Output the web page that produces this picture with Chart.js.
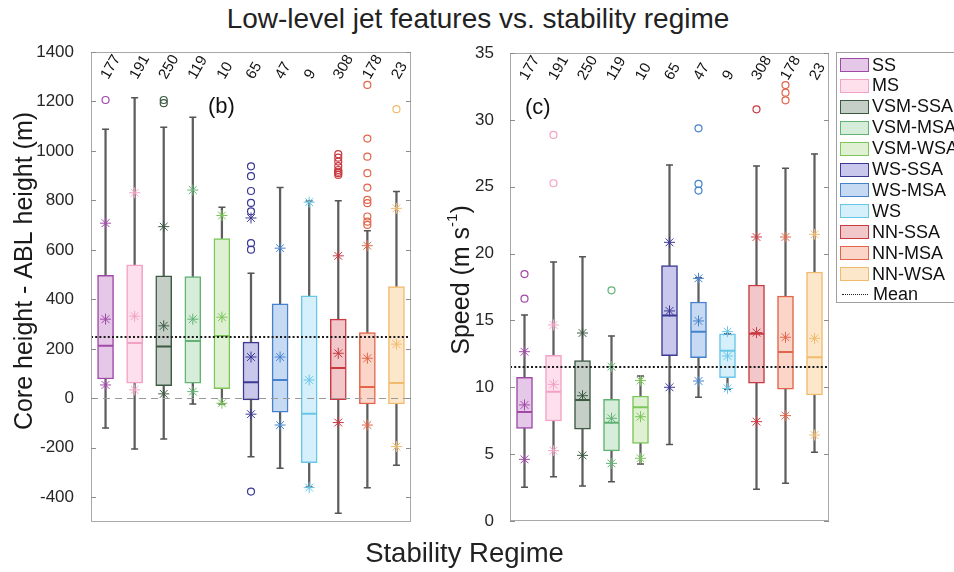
<!DOCTYPE html>
<html>
<head>
<meta charset="utf-8">
<title>Low-level jet features vs. stability regime</title>
<script src="https://cdn.jsdelivr.net/npm/chart.js@4.4.1/dist/chart.umd.min.js"></script>
<style>
  body { margin: 0; width: 954px; height: 572px; overflow: hidden; position: relative; background: #fff;
         font-family: "Liberation Sans", Arial, Helvetica, sans-serif; color: #222; }
  #title { position: absolute; left: 0; top: 4px; width: 956px; text-align: center; font-size: 28px; line-height: 30px; }
  #xlabel { position: absolute; left: 0; top: 538px; width: 929px; text-align: center; font-size: 27.5px; line-height: 30px; }
  #hChart { position: absolute; left: 0; top: 0; }
  #sChart { position: absolute; left: 430px; top: 0; }
  #legend { position: absolute; left: 836px; top: 52px; width: 140px; height: 251px; border: 1px solid #a0a0a0; box-sizing: border-box; }
  .item { position: absolute; left: 3px; height: 16px; display: flex; align-items: center; font-size: 18px; white-space: nowrap; color: #111; }
  .sw { width: 27px; height: 12px; border: 1.5px solid; margin-right: 3px; box-sizing: content-box; }
  .dots { width: 26px; height: 0; border-top: 1.5px dotted #222; margin: 0 5px 0 2px; }
</style>
</head>
<body>
<div id="title">Low-level jet features vs. stability regime</div>
<canvas id="hChart" width="430" height="572"></canvas>
<canvas id="sChart" width="410" height="572"></canvas>
<div id="legend"></div>
<div id="xlabel">Stability Regime</div>

<script>
// categorias (regimes de estabilidade) e numero de casos
const regimes = ['SS', 'MS', 'VSM-SSA', 'VSM-MSA', 'VSM-WSA', 'WS-SSA', 'WS-MSA', 'WS', 'NN-SSA', 'NN-MSA', 'NN-WSA'];
const counts = [177, 191, 250, 119, 10, 65, 47, 9, 308, 178, 23];

const edgeColors = ['#a04aa8', '#f2a2c4', '#3d5a43', '#62b274', '#7cc65a', '#3b3994', '#4682cc', '#68c6e8', '#c93a42', '#e2654a', '#f1bb6e'];
const fillColors = ['#e5c7e8', '#fde0ec', '#c5cfc7', '#d6edd9', '#dff1d2', '#c9c8ec', '#c7daf3', '#d5f0fb', '#f2c7c9', '#fcd5c9', '#fde7cb'];

// painel (b): core height - ABL height (m)
const heightTicks = [-400, -200, 0, 200, 400, 600, 800, 1000, 1200, 1400];
const heightWhiskerLow = [-120, -205, -164, -23, -23, -236, -283, -359, -465, -362, -271];
const heightQ1 = [78, 61, 51, 61, 39, -6, -56, -260, -5, -23, -23];
const heightMedian = [212, 224, 209, 232, 252, 65, 74, -62, 123, 46, 62];
const heightQ3 = [497, 540, 495, 492, 646, 227, 382, 414, 320, 266, 452];
const heightWhiskerHigh = [1088, 1215, 1096, 1136, 772, 506, 852, 798, 799, 677, 836];
const heightMean = [320, 332, 293, 320, 328, 167, 167, 74, 182, 162, 219];
const heightLowStar = [54, 34, 18, 27, -20, -64, -108, -361, -98, -108, -195];
const heightHighStar = [708, 831, 694, 842, 739, 729, 607, 793, 576, 617, 768];
const heightOutliers = [[1206], [], [1206, 1193], [], [], [938, 898, 838, 790, 756, 627, 601, -377], [], [],
  [987, 973, 957, 939, 923, 916, 910, 903], [1267, 1050, 977, 910, 852, 802, 789, 735, 714, 701], [1169]];
const heightOverallMean = 247;

// painel (c): speed (m/s)
const speedTicks = [0, 5, 10, 15, 20, 25, 30, 35];
const speedWhiskerLow = [2.52, 3.31, 2.62, 2.94, 4.26, 5.73, 9.25, 9.85, 2.37, 2.82, 5.14];
const speedQ1 = [6.93, 7.48, 6.86, 5.24, 5.81, 12.37, 12.22, 10.72, 10.3, 9.85, 9.42];
const speedMedian = [8.15, 9.67, 9.05, 7.35, 8.5, 15.36, 14.16, 12.74, 14.01, 12.64, 12.24];
const speedQ3 = [10.75, 12.39, 11.99, 9.1, 9.35, 19.1, 16.38, 13.99, 17.65, 16.83, 18.62];
const speedWhiskerHigh = [15.4, 19.37, 19.77, 13.84, 10.85, 26.63, 18.2, 14.0, 26.55, 26.38, 27.45];
const speedMean = [8.68, 10.22, 9.37, 7.68, 7.8, 15.71, 14.96, 12.34, 14.09, 13.74, 13.66];
const speedLowStar = [4.61, 5.26, 4.91, 4.31, 4.69, 10.0, 10.47, 9.92, 7.43, 7.88, 6.43];
const speedHighStar = [12.66, 14.66, 14.06, 11.54, 10.5, 20.84, 18.15, 14.16, 21.24, 21.24, 21.44];
const speedOutliers = [[18.47, 16.63], [28.87, 25.26], [], [17.25], [], [], [29.37, 25.21, 24.71], [], [30.79], [32.6, 32.03, 31.46], []];
const speedOverallMean = 11.54;

const FONT = '"Liberation Sans", Arial, Helvetica, sans-serif';

// monta os datasets de um boxplot (caixa, bigodes, mediana, asteriscos, outliers)
function boxDatasets(lo, q1, med, q3, hi, mean, lowStar, highStar, outliers) {
  const outPts = [];
  outliers.forEach((list, i) => list.forEach(v => outPts.push({ x: regimes[i], y: v, k: i })));
  const caps = lo.map((v, i) => ({ x: regimes[i], y: v })).concat(hi.map((v, i) => ({ x: regimes[i], y: v })));
  const star = (data) => ({
    type: 'line', data, showLine: false, pointStyle: 'star', pointRadius: 5.5,
    pointBorderWidth: 1, pointBorderColor: edgeColors, pointBackgroundColor: edgeColors, order: 0
  });
  return [
    { type: 'bar', data: lo.map((v, i) => [v, q1[i]]), backgroundColor: '#5e5e5e', barThickness: 1.6, grouped: false, order: 5 },
    { type: 'bar', data: q3.map((v, i) => [v, hi[i]]), backgroundColor: '#5e5e5e', barThickness: 1.6, grouped: false, order: 5 },
    { type: 'bar', data: q1.map((v, i) => [v, q3[i]]), backgroundColor: fillColors, borderColor: edgeColors,
      borderWidth: 1.5, borderSkipped: false, barThickness: 16, grouped: false, order: 4 },
    { type: 'line', data: caps, showLine: false, pointStyle: 'line', pointRadius: 3.5,
      pointBorderColor: '#555', pointBorderWidth: 1.5, order: 2 },
    { type: 'line', data: med, showLine: false, pointStyle: 'line', pointRadius: 7.5,
      pointBorderColor: edgeColors, pointBorderWidth: 2, order: 1 },
    star(mean), star(lowStar), star(highStar),
    { type: 'line', data: outPts, showLine: false, pointStyle: 'circle', pointRadius: 3.5, pointBorderWidth: 1.2,
      pointBackgroundColor: 'rgba(0,0,0,0)', pointBorderColor: c => edgeColors[c.raw ? c.raw.k : 0], order: 0 }
  ];
}

// desenha moldura, ticks internos, linhas de referencia, contagens e titulos
function panelPlugin(p) {
  return {
    id: 'panel',
    afterDatasetsDraw(chart) {
      const { ctx, chartArea: a, scales: { y } } = chart;
      ctx.save();
      if (p.zeroLine) {
        const y0 = Math.round(y.getPixelForValue(0)) + 0.5;
        ctx.strokeStyle = '#9a9a9a';
        ctx.lineWidth = 1.2;
        ctx.setLineDash([7, 5]);
        ctx.beginPath(); ctx.moveTo(a.left, y0); ctx.lineTo(a.right, y0); ctx.stroke();
      }
      const ym = Math.round(y.getPixelForValue(p.mean));
      ctx.strokeStyle = '#1a1a1a';
      ctx.lineWidth = 2;
      ctx.setLineDash([2, 2.2]);
      ctx.beginPath(); ctx.moveTo(a.left, ym); ctx.lineTo(a.right, ym); ctx.stroke();
      ctx.restore();
    },
    afterDraw(chart) {
      const { ctx, chartArea: a, scales: { x, y } } = chart;
      ctx.save();
      // moldura
      ctx.strokeStyle = '#a8a8a8';
      ctx.lineWidth = 1;
      ctx.strokeRect(a.left + 0.5, a.top + 0.5, a.right - a.left - 1, a.bottom - a.top - 1);
      // ticks para dentro
      ctx.strokeStyle = '#8c8c8c';
      y.ticks.forEach(t => {
        const py = Math.round(y.getPixelForValue(t.value)) + 0.5;
        ctx.beginPath();
        ctx.moveTo(a.left, py); ctx.lineTo(a.left + 5, py);
        ctx.moveTo(a.right - 5, py); ctx.lineTo(a.right, py);
        ctx.stroke();
      });
      // numero de casos, rotacionado
      ctx.fillStyle = '#111';
      ctx.font = '15px ' + FONT;
      ctx.textAlign = 'left';
      ctx.textBaseline = 'middle';
      counts.forEach((n, i) => {
        ctx.save();
        ctx.translate(x.getPixelForValue(i) - 1, a.top + 26);
        ctx.rotate(-Math.PI / 3);
        ctx.fillText(String(n), 0, 0);
        ctx.restore();
      });
      // rotulo do painel
      ctx.font = '22px ' + FONT;
      ctx.fillText(p.tag, a.left + p.tagDx, a.top + 55);
      // titulo do eixo y
      ctx.translate(p.titleX, p.titleY);
      ctx.rotate(-Math.PI / 2);
      const big = '25px ' + FONT, small = '15px ' + FONT;
      let total = 0;
      p.yTitle.forEach(part => { ctx.font = part.sup ? small : big; total += ctx.measureText(part.t).width; });
      let cx = -total / 2;
      ctx.fillStyle = '#1a1a1a';
      p.yTitle.forEach(part => {
        ctx.font = part.sup ? small : big;
        ctx.fillText(part.t, cx, part.sup ? -9 : 0);
        cx += ctx.measureText(part.t).width;
      });
      ctx.restore();
    }
  };
}

function makeChart(id, datasets, yOpt, pad, axisWidth, plugin) {
  return new Chart(document.getElementById(id), {
    type: 'bar',
    data: { labels: regimes, datasets: datasets },
    options: {
      responsive: false,
      animation: false,
      events: [],
      layout: { padding: pad },
      plugins: { legend: { display: false }, tooltip: { enabled: false } },
      scales: {
        x: { display: false },
        y: {
          min: yOpt.min, max: yOpt.max,
          afterBuildTicks: s => { s.ticks = yOpt.ticks.map(v => ({ value: v })); },
          afterFit: s => { s.width = axisWidth; },
          grid: { display: false },
          border: { display: false },
          ticks: { font: { size: 17, family: FONT }, color: '#262626', padding: yOpt.padding, callback: v => String(v) }
        }
      }
    },
    plugins: [plugin]
  });
}

makeChart('hChart',
  boxDatasets(heightWhiskerLow, heightQ1, heightMedian, heightQ3, heightWhiskerHigh, heightMean, heightLowStar, heightHighStar, heightOutliers),
  { min: -500, max: 1400, ticks: heightTicks, padding: 9 },
  { left: 0, right: 19, top: 52, bottom: 50 }, 91,
  panelPlugin({ zeroLine: true, mean: heightOverallMean, tag: '(b)', tagDx: 117, titleX: 25, titleY: 271,
    yTitle: [{ t: 'Core height - ABL height (m)' }] }));

makeChart('sChart',
  boxDatasets(speedWhiskerLow, speedQ1, speedMedian, speedQ3, speedWhiskerHigh, speedMean, speedLowStar, speedHighStar, speedOutliers),
  { min: 0, max: 35, ticks: speedTicks, padding: 8 },
  { left: 0, right: 11, top: 53, bottom: 51 }, 80,
  panelPlugin({ zeroLine: false, mean: speedOverallMean, tag: '(c)', tagDx: 15, titleX: 32, titleY: 280,
    yTitle: [{ t: 'Speed (m s' }, { t: '-1', sup: true }, { t: ')' }] }));

// legenda em HTML
const legend = document.getElementById('legend');
regimes.forEach((name, i) => {
  const item = document.createElement('div');
  item.className = 'item';
  item.style.top = (13 + i * 20.9 - 9) + 'px';
  item.innerHTML = `<span class="sw" style="background:${fillColors[i]};border-color:${edgeColors[i]}"></span>${name}`;
  legend.appendChild(item);
});
const meanItem = document.createElement('div');
meanItem.className = 'item';
meanItem.style.top = (13 + 11 * 20.9 - 9) + 'px';
meanItem.innerHTML = '<span class="dots"></span>Mean';
legend.appendChild(meanItem);
</script>
</body>
</html>
